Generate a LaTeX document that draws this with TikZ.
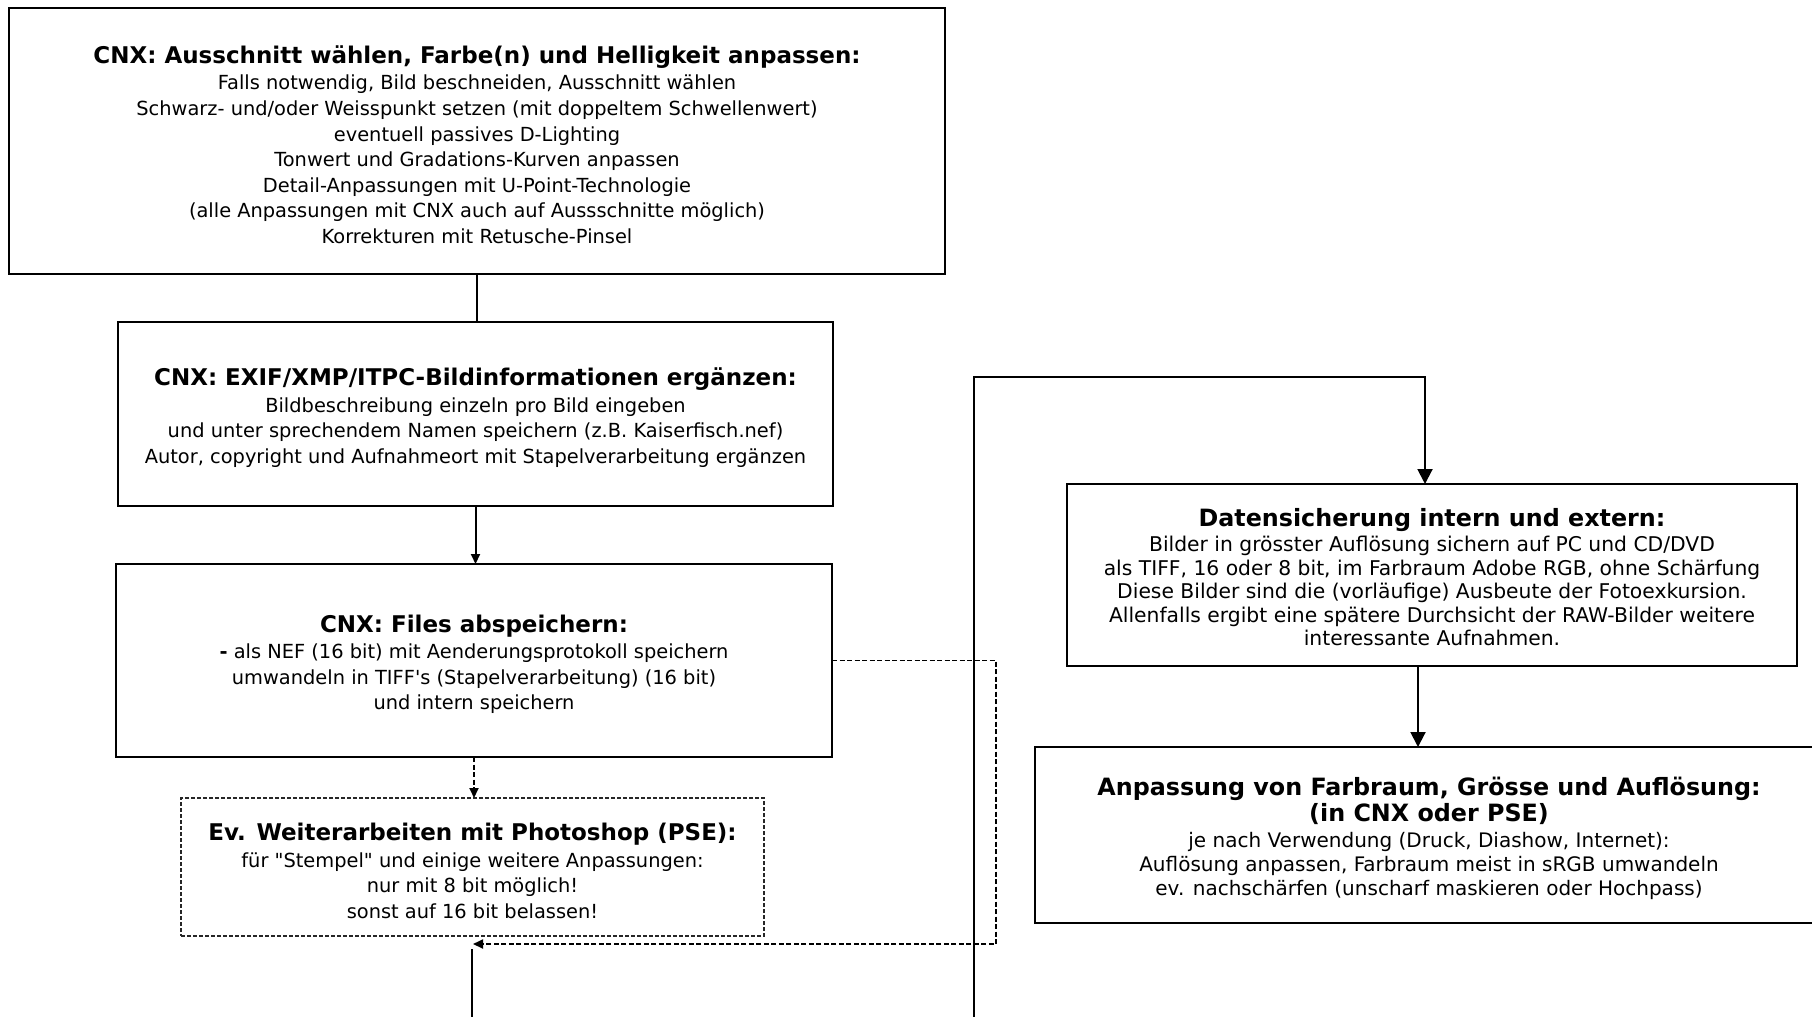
\documentclass[tikz,border=0pt]{standalone}
\usepackage{fontspec}
\setmainfont{DejaVu Sans}[Ligatures=TeXOff]
\usetikzlibrary{arrows.meta}
\tikzset{
  box/.style={draw=black, line width=2pt, inner sep=0pt, outer sep=0pt, align=center, fill=white},
  dbox/.style={box, line width=1.3pt, draw=black!85, dash pattern=on 4pt off 2pt},
  lbody/.style={font=\fontsize{19.4}{25.6}\selectfont},
  rbody/.style={font=\fontsize{20.3}{23.5}\selectfont},
  conn/.style={line width=2pt, draw=black},
  dconn/.style={line width=1.8pt, draw=black, dash pattern=on 5pt off 2.5pt},
  arrL/.style={-{Triangle[length=10pt,width=9pt]}},
  arrR/.style={-{Triangle[length=15pt,width=15pt]}},
}
\newcommand{\ltitle}[1]{{\fontsize{23}{25.6}\selectfont\bfseries\rule{0pt}{25pt}#1}\\[1.1pt]}
\newcommand{\rtfont}{\fontsize{23.8}{24}\selectfont\bfseries}
\begin{document}
\begin{tikzpicture}[x=1pt,y=-1pt]
\useasboundingbox (0,0) rectangle (1812,1017);
\clip (0,0) rectangle (1812,1017);

\node[box, lbody, minimum width=936, minimum height=266] (box1) at (477,141)
 {\ltitle{CNX: Ausschnitt wählen, Farbe(n) und Helligkeit anpassen:}
  Falls notwendig, Bild beschneiden, Ausschnitt wählen\\
  Schwarz- und/oder Weisspunkt setzen (mit doppeltem Schwellenwert)\\
  eventuell passives D-Lighting\\
  Tonwert und Gradations-Kurven anpassen\\
  Detail-Anpassungen mit U-Point-Technologie\\
  (alle Anpassungen mit CNX auch auf Aussschnitte möglich)\\
  Korrekturen mit Retusche-Pinsel};

\node[box, lbody, minimum width=715, minimum height=184] (box2) at (475.5,414)
 {\ltitle{CNX: EXIF/XMP/ITPC-Bildinformationen ergänzen:}
  Bildbeschreibung einzeln pro Bild eingeben\\
  und unter sprechendem Namen speichern (z.B. Kaiserfisch.nef)\\
  Autor, copyright und Aufnahmeort mit Stapelverarbeitung ergänzen};

\node[box, lbody, minimum width=716, minimum height=193] (box3) at (474,660.5)
 {\ltitle{CNX: Files abspeichern:}
  {\bfseries -} als NEF (16 bit) mit Aenderungsprotokoll speichern\\
  umwandeln in TIFF's (Stapelverarbeitung) (16 bit)\\
  und intern speichern};

\node[dbox, lbody, minimum width=583, minimum height=138] (box4) at (472.5,867)
 {\ltitle{Ev. Weiterarbeiten mit Photoshop (PSE):}
  für "Stempel" und einige weitere Anpassungen:\\
  nur mit 8 bit möglich!\\
  sonst auf 16 bit belassen!};

\node[box, rbody, minimum width=730, minimum height=182] (box5) at (1432,575)
 {{\rtfont\rule{0pt}{23pt}Datensicherung intern und extern:}\\[1.5pt]
  Bilder in grösster Auflösung sichern auf PC und CD/DVD\\
  als TIFF, 16 oder 8 bit, im Farbraum Adobe RGB, ohne Schärfung\\
  Diese Bilder sind die (vorläufige) Ausbeute der Fotoexkursion.\\
  Allenfalls ergibt eine spätere Durchsicht der RAW-Bilder weitere\\
  interessante Aufnahmen.};

\node[box, font=\fontsize{20}{24.3}\selectfont, minimum width=788, minimum height=176] (box6) at (1429,835)
 {{\rtfont\rule{0pt}{25.3pt}Anpassung von Farbraum, Grösse und Auflösung:}\\[2.3pt]
  {\rtfont (in CNX oder PSE)}\\[1pt]
  je nach Verwendung (Druck, Diashow, Internet):\\
  Auflösung anpassen, Farbraum meist in sRGB umwandeln\\
  ev. nachschärfen (unscharf maskieren oder Hochpass)};

% coordinates for free ends and bends
\coordinate (j)   at (473,944);
\coordinate (d1)  at (996,944);
\coordinate (s1)  at (472,949);
\coordinate (s1e) at (472,1030);
\coordinate (s2e) at (974,1030);
\coordinate (c1)  at (1425,377);
\coordinate (a56) at ([xshift=-14pt]box5.south);

% left column
\draw[conn] (box1.south) -- (box1.south |- box2.north);
\draw[conn, arrL] (box2.south) -- (box2.south |- box3.north);
\draw[dconn, arrL] (box3.south) -- (box3.south |- box4.north);
\draw[dconn, arrL] (box3.east) -| (d1) -- (j);
\draw[conn] (s1) -- (s1e);

% right column
\draw[conn, arrR] (s2e) |- (c1) -- (c1 |- box5.north);
\draw[conn, arrR] (a56) -- (a56 |- box6.north);
\end{tikzpicture}
\end{document}
